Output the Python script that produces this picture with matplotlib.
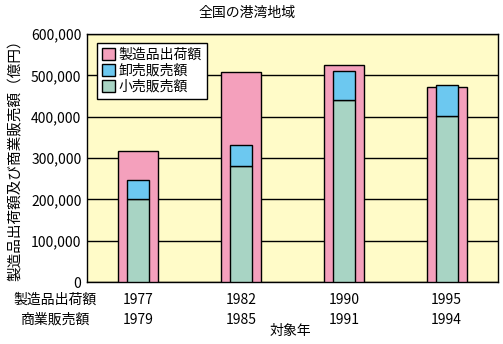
import matplotlib
matplotlib.use("Agg")
import matplotlib.pyplot as plt
from matplotlib.patches import Patch
from matplotlib.ticker import FuncFormatter
import matplotlib.transforms as mtransforms

plt.rcParams['font.family'] = ['Noto Sans CJK JP', 'DejaVu Sans']

mfg_years = ['1977', '1982', '1990', '1995']
com_years = ['1979', '1985', '1991', '1994']
manufacturing = [316000, 507000, 524000, 471000]   # 製造品出荷額
retail = [200000, 282000, 440000, 401000]          # 小売販売額
wholesale = [46000, 49000, 70000, 75000]           # 卸売販売額 (stacked on retail)

PINK = '#F4A0BC'
BLUE = '#6CC8F0'
GREEN = '#A8D4C4'
BG = '#FFFBC8'
FS = 10

fig = plt.figure(figsize=(5.03, 3.44), dpi=100)
ax = fig.add_axes([0.173, 0.180, 0.817, 0.721])
ax.set_facecolor(BG)

x = list(range(len(mfg_years)))
ax.bar(x, manufacturing, width=0.39, color=PINK, edgecolor='black', linewidth=1, zorder=3)
ax.bar(x, retail, width=0.214, color=GREEN, edgecolor='black', linewidth=1, zorder=4)
ax.bar(x, wholesale, bottom=retail, width=0.214, color=BLUE, edgecolor='black', linewidth=1, zorder=4)

ax.set_xlim(-0.5, 3.5)
ax.set_ylim(0, 600000)
ax.set_yticks(range(0, 600001, 100000))
ax.yaxis.set_major_formatter(FuncFormatter(lambda v, p: f'{int(v):,}'))
ax.grid(axis='y', color='black', linewidth=1, zorder=1)
ax.tick_params(axis='y', length=0, pad=4, labelsize=FS)
ax.set_xticks([])
for s in ax.spines.values():
    s.set_color('black')
    s.set_linewidth(1)

trans = mtransforms.blended_transform_factory(ax.transData, ax.transAxes)
ftrans = mtransforms.blended_transform_factory(fig.transFigure, ax.transAxes)
y1 = -0.072
y2 = -0.152
for i in x:
    ax.text(i, y1, mfg_years[i], transform=trans, ha='center', va='center', fontsize=FS)
    ax.text(i, y2, com_years[i], transform=trans, ha='center', va='center', fontsize=FS)
ax.text(55/503, y1, '製造品出荷額', transform=ftrans, ha='center', va='center', fontsize=FS)
ax.text(55/503, y2, '商業販売額', transform=ftrans, ha='center', va='center', fontsize=FS)

fig.text(290/503, 1 - 331/344, '対象年', ha='center', va='center', fontsize=FS)
fig.text(247/503, 1 - 13/344, '全国の港湾地域', ha='center', va='center', fontsize=FS)
fig.text(16/503, 1 - 157/344, '製造品出荷額及び商業販売額（億円）', rotation=90,
         ha='center', va='center', fontsize=10.5)

handles = [Patch(facecolor=PINK, edgecolor='black'),
           Patch(facecolor=BLUE, edgecolor='black'),
           Patch(facecolor=GREEN, edgecolor='black')]
leg = ax.legend(handles, ['製造品出荷額', '卸売販売額', '小売販売額'], loc='upper left',
                bbox_to_anchor=(0.025, 0.965), fancybox=False, framealpha=1,
                edgecolor='black', fontsize=FS, handlelength=0.9, handleheight=0.9,
                handletextpad=0.3, labelspacing=0.15, borderpad=0.35, borderaxespad=0)
leg.get_frame().set_linewidth(1)
leg.set_zorder(10)

fig.savefig('out.png', dpi=100)
